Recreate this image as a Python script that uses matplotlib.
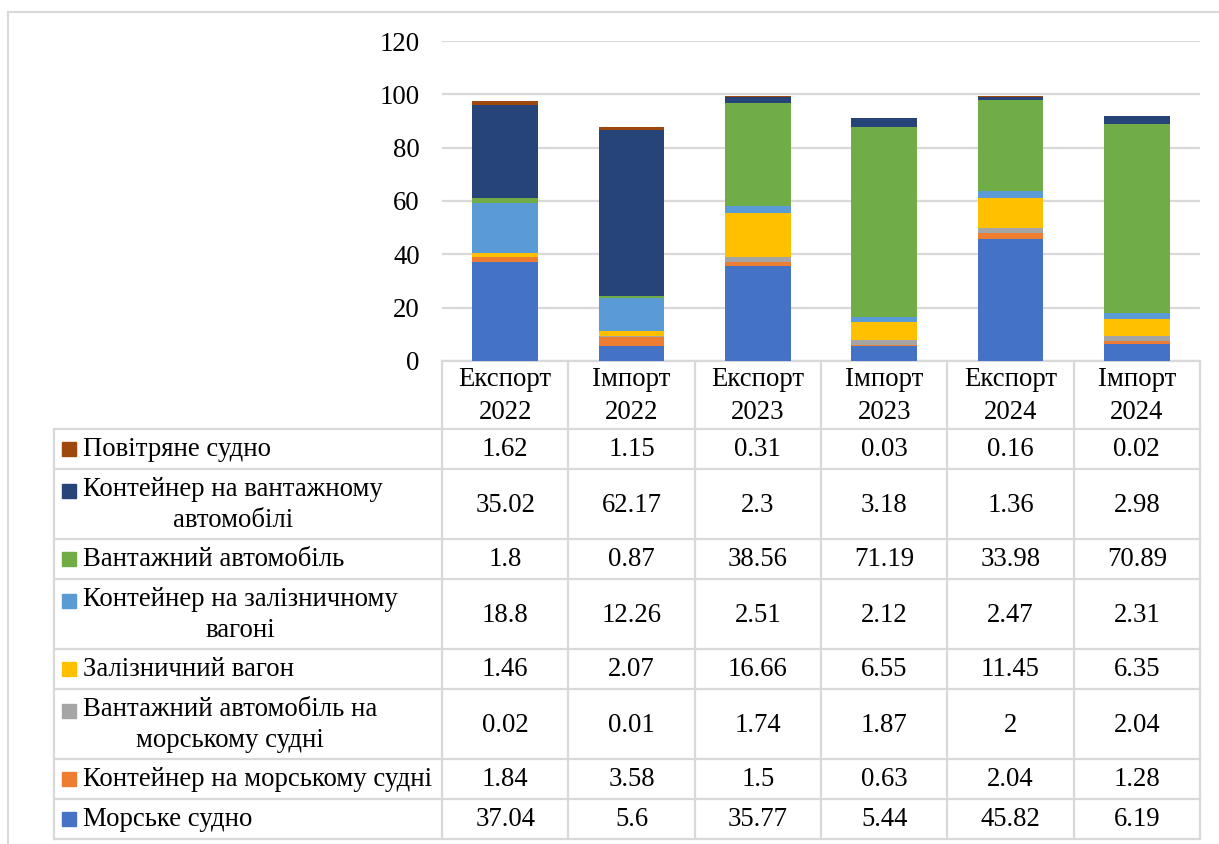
"""Stacked bars of cargo shares by transport mode, with a data table below."""

import matplotlib
matplotlib.use("Agg")
import matplotlib.pyplot as plt
from matplotlib.patches import Rectangle
import numpy as np

plt.rcParams["font.family"] = ["Liberation Serif", "DejaVu Serif"]

CATEGORIES = ["Експорт\n2022", "Імпорт\n2022", "Експорт\n2023",
              "Імпорт\n2023", "Експорт\n2024", "Імпорт\n2024"]

# series from the bottom of the stack upwards
SERIES = [
    "Морське судно",
    "Контейнер на морському судні",
    "Вантажний автомобіль на\nморському судні",
    "Залізничний вагон",
    "Контейнер на залізничному\nвагоні",
    "Вантажний автомобіль",
    "Контейнер на вантажному\nавтомобілі",
    "Повітряне судно",
]
VALUES = [
    [37.04, 5.6, 35.77, 5.44, 45.82, 6.19],
    [1.84, 3.58, 1.5, 0.63, 2.04, 1.28],
    [0.02, 0.01, 1.74, 1.87, 2, 2.04],
    [1.46, 2.07, 16.66, 6.55, 11.45, 6.35],
    [18.8, 12.26, 2.51, 2.12, 2.47, 2.31],
    [1.8, 0.87, 38.56, 71.19, 33.98, 70.89],
    [35.02, 62.17, 2.3, 3.18, 1.36, 2.98],
    [1.62, 1.15, 0.31, 0.03, 0.16, 0.02],
]
COLORS = ["#4472C4", "#ED7D31", "#A5A5A5", "#FFC000",
          "#5B9BD5", "#70AD47", "#264478", "#9E480E"]
Y_TICKS = [0, 20, 40, 60, 80, 100, 120]

W, H = 1219, 844
FS = 19.3
GRID = "#D9D9D9"

fig = plt.figure(figsize=(W / 100, H / 100), dpi=100)

# pixel-space canvas for the table and frame
bg = fig.add_axes([0, 0, 1, 1])
bg.set_xlim(0, W)
bg.set_ylim(H, 0)
bg.axis("off")

# chart area
ax_l, ax_r, ax_t, ax_b = 442, 1200, 41, 361
ax = fig.add_axes([ax_l / W, 1 - ax_b / H, (ax_r - ax_l) / W, (ax_b - ax_t) / H])
ax.set_facecolor("none")
x = np.arange(len(CATEGORIES))
bottom = np.zeros(len(CATEGORIES))
for vals, color in zip(VALUES, COLORS):
    ax.bar(x, vals, bottom=bottom, width=0.52, color=color, zorder=3)
    bottom += np.array(vals)
ax.set_xlim(-0.5, len(CATEGORIES) - 0.5)
ax.set_ylim(0, 120)
ax.set_yticks(Y_TICKS)
ax.set_yticklabels([str(t) for t in Y_TICKS], fontsize=FS)
ax.tick_params(axis="y", length=0, pad=16)
ax.set_xticks([])
for s in ax.spines.values():
    s.set_visible(False)
ax.yaxis.grid(True, color=GRID, linewidth=1.6, zorder=0)

# outer frame (top and left edges)
bg.plot([8, W], [12, 12], color=GRID, lw=1.5)
bg.plot([8, 8], [12, H], color=GRID, lw=1.5)

# table
col_edges = np.linspace(ax_l, ax_r, len(CATEGORIES) + 1)
tab_left = 54
head_top, head_bot = 361, 429
rows = list(range(len(SERIES)))[::-1]
heights = [70 if "\n" in SERIES[i] else 40 for i in rows]
row_edges = head_bot + np.concatenate([[0], np.cumsum(heights)])
tab_bot = row_edges[-1]

lw_t = 1.6
bg.plot([ax_l, ax_r], [head_top, head_top], color=GRID, lw=lw_t)
for yy in row_edges:
    bg.plot([tab_left, ax_r], [yy, yy], color=GRID, lw=lw_t)
bg.plot([tab_left, tab_left], [head_bot, tab_bot], color=GRID, lw=lw_t)
for xx in col_edges:
    bg.plot([xx, xx], [head_top, tab_bot], color=GRID, lw=lw_t)

for j, cat in enumerate(CATEGORIES):
    cx = (col_edges[j] + col_edges[j + 1]) / 2
    bg.text(cx, (head_top + head_bot) / 2 + 1, cat, ha="center", va="center",
            fontsize=FS, linespacing=1.38)

for r, i in enumerate(rows):
    y0, y1 = row_edges[r], row_edges[r + 1]
    cy = (y0 + y1) / 2
    two = "\n" in SERIES[i]
    my = cy - 13 if two else cy
    bg.add_patch(Rectangle((62, my - 7), 14, 14, color=COLORS[i]))
    bg.text(83, cy + 1, SERIES[i], ha="left", va="center", multialignment="center",
            fontsize=FS, linespacing=1.27)
    for j in range(len(CATEGORIES)):
        cx = (col_edges[j] + col_edges[j + 1]) / 2
        bg.text(cx, cy + 1, f"{VALUES[i][j]:g}", ha="center", va="center", fontsize=FS)

fig.savefig("out.png", dpi=100)
